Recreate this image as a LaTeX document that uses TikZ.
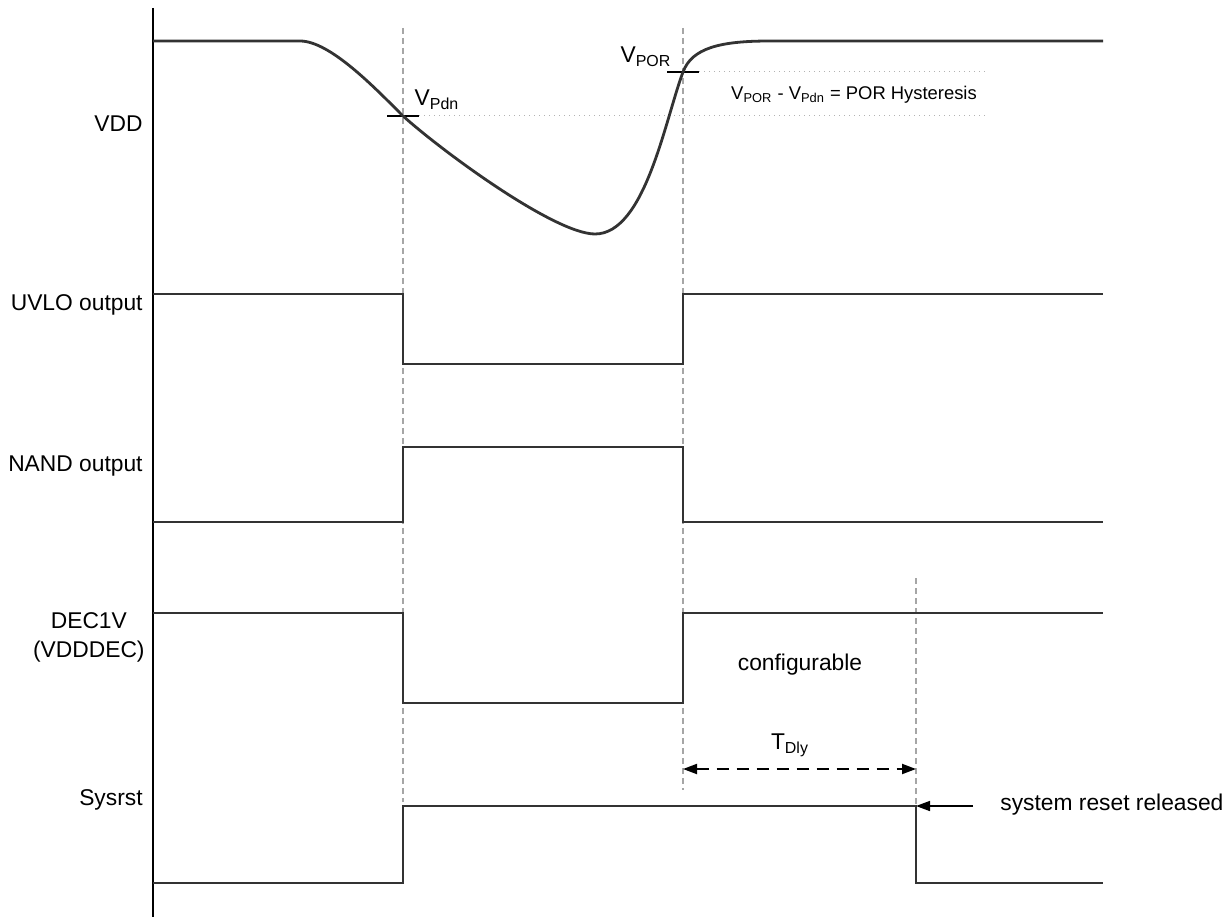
\documentclass[tikz,border=0pt]{standalone}
\usepackage{fontspec}
\setmainfont{Liberation Sans}
\usetikzlibrary{arrows.meta}
\tikzset{
  sig/.style={line width=1.4pt, draw=black!80},
  guide/.style={line width=0.6pt, draw=black!35, dash pattern=on 3pt off 2pt},
  hyst/.style={line width=0.5pt, draw=black!30, dotted},
  lbl/.style={font=\fontsize{11.4}{13.5}\selectfont, inner sep=0pt},
  small lbl/.style={font=\fontsize{9.2}{11}\selectfont, inner sep=0pt},
  tri/.tip={Triangle[length=7pt,width=5pt]}
}
\begin{document}
\begin{tikzpicture}[x=0.5pt,y=-0.5pt]
\useasboundingbox (0,0) rectangle (1229,919);
% time axis
\draw[line width=1pt] (153,8) -- (153,917);
% guides at the switching points
\draw[guide] (403,28) -- (403,802);
\draw[guide] (683,28) -- (683,790);
\draw[guide] (916,578) -- (916,806);
% threshold levels
\coordinate (pdn) at (403,116);
\coordinate (por) at (683,72);
\draw[hyst] (pdn) ++(16,0) -- (988,116);
\draw[hyst] (por) ++(16,0) -- (988,72);
\draw[line width=1pt] (pdn) ++(-16,0) -- ++(32,0);
\draw[line width=1pt] (por) ++(-16,0) -- ++(32,0);
% VDD
\draw[sig] (153,41) -- (300,41) .. controls (330,41) and (375,88) .. (pdn)
  .. controls (443,152) and (555,234) .. (595,234)
  .. controls (645,234) and (665,120) .. (por)
  .. controls (692,48) and (720,41) .. (770,41) -- (1103,41);
% UVLO output
\draw[sig] (153,294) -- (403,294) -- (403,364) -- (683,364) -- (683,294) -- (1103,294);
% NAND output
\draw[sig] (153,522) -- (403,522) -- (403,447) -- (683,447) -- (683,522) -- (1103,522);
% DEC1V
\draw[sig] (153,613) -- (403,613) -- (403,703) -- (683,703) -- (683,613) -- (1103,613);
% Sysrst
\draw[sig] (153,883) -- (403,883) -- (403,806) -- (916,806) -- (916,883) -- (1103,883);
% delay and release
\coordinate (dlyA) at (683,769);
\coordinate (dlyB) at (916,769);
\draw[line width=1pt, dash pattern=on 6pt off 4pt, {tri}-{tri}] (dlyA) -- (dlyB);
\coordinate (rel) at (916,806);
\coordinate (relfrom) at (973,806);
\draw[line width=0.8pt, -{tri}] (relfrom) -- (rel);
% labels
\node[lbl, anchor=east] (vdd) at (143,124) {VDD};
\node[lbl, anchor=east] (uvlo) at (143,305) {UVLO output};
\node[lbl, anchor=east] (nand) at (143,466) {NAND output};
\node[lbl, anchor=east, align=center] (dec) at (145,637) {DEC1V\\[1pt](VDDDEC)};
\node[lbl, anchor=east] (sysrst) at (143,800) {Sysrst};
\node[lbl] (vpdn) at (437,100) {V\textsubscript{Pdn}};
\node[lbl] (vpor) at (646,57) {V\textsubscript{POR}};
\node[small lbl] (hys) at (854,95) {V\textsubscript{POR} - V\textsubscript{Pdn} = POR Hysteresis};
\node[lbl] (cfg) at (800,665) {configurable};
\node[lbl] (tdly) at (790,745) {T\textsubscript{Dly}};
\node[lbl, anchor=west] (sysrel) at (1000,805) {system reset released};
\end{tikzpicture}
\end{document}
